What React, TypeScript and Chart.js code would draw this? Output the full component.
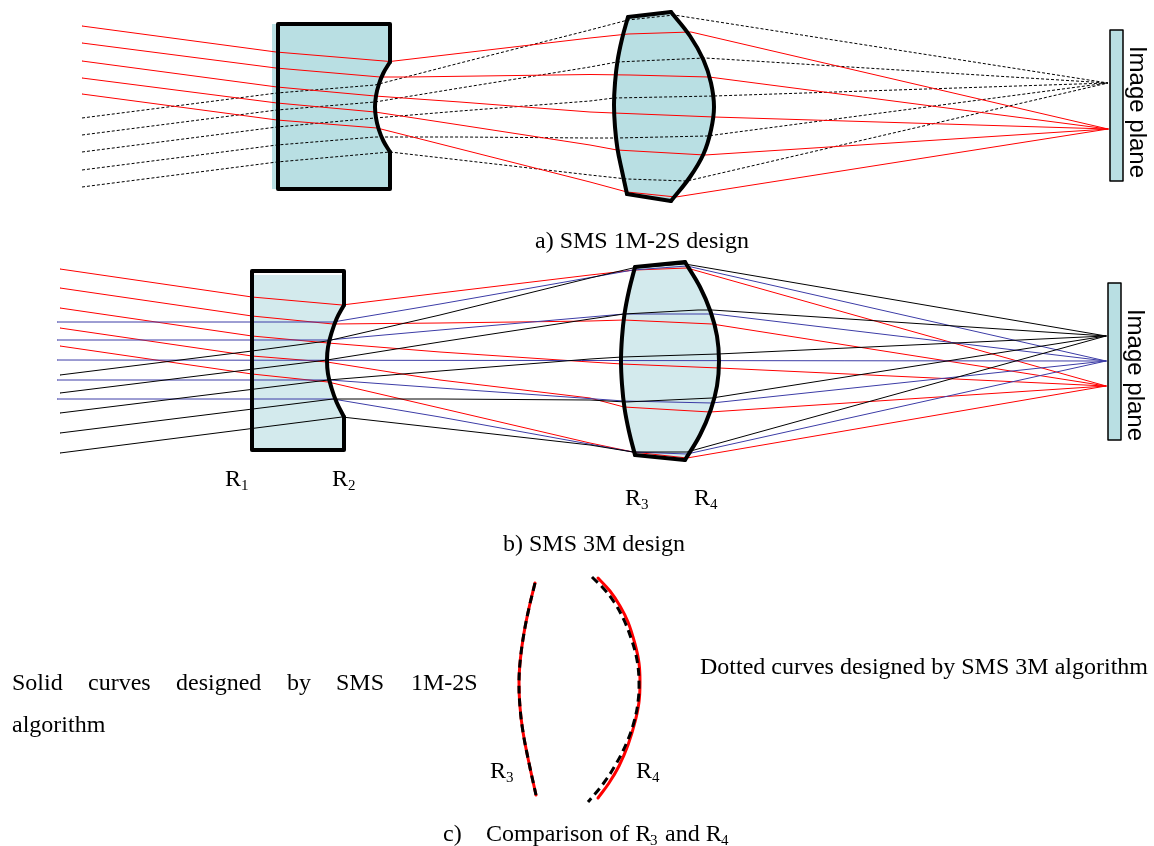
import React, { useEffect, useRef } from "react";
import { Chart, registerables } from "chart.js";

Chart.register(...registerables);

type P = [number, number];

// ---- Panel a: lenses
const lensA1Outline: P[] = [[390, 62], [390, 24], [278, 24], [278, 189], [390, 189], [390, 152]];
const lensA1Notch: P[] = [[390, 62], [383.4, 73], [378.8, 84.5], [376, 96], [375, 107], [376, 118], [378.8, 129.5], [383.4, 141], [390, 152]];
const lensA1Fill: P[] = [[272, 24], [390, 24], [390, 62], [383.4, 73], [378.8, 84.5], [376, 96], [375, 107], [376, 118], [378.8, 129.5], [383.4, 141], [390, 152], [390, 189], [272, 189]];
const lensA2Left: P[] = [[628, 17], [622, 39], [617.5, 61], [615, 83], [614, 105], [615, 127], [617.5, 149], [622, 171], [627, 194]];
const lensA2Right: P[] = [[671, 12], [690, 36], [703.5, 60], [711, 83], [714, 107], [711, 130], [703.5, 154], [690, 177], [671, 201]];
const lensA2TopEdge: P[] = [[628, 17], [671, 12]];
const lensA2BottomEdge: P[] = [[627, 194], [671, 201]];
const planeA: P[] = [[1110, 30], [1123, 30], [1123, 181], [1110, 181], [1110, 30]];

// ---- Panel a: rays
const redA1: P[] = [[82, 26], [276, 52], [390, 61.5], [590, 38], [628, 34], [691, 32], [1108, 129]];
const redA2: P[] = [[82, 43], [276, 68], [380, 77], [407, 77], [590, 74.5], [630, 75], [709, 77], [1108, 129]];
const redA3: P[] = [[82, 61], [277, 87], [375, 96], [460, 102], [590, 112], [614, 113], [714, 117], [1108, 129]];
const redA4: P[] = [[82, 78], [277, 103], [375, 112], [460, 125], [590, 145], [617, 150], [705, 155], [1108, 129]];
const redA5: P[] = [[82, 94], [277, 120], [377, 128], [460, 149], [590, 182], [627, 192], [676, 197], [1108, 129]];
const dashA1: P[] = [[82, 118], [277, 93], [375, 85], [460, 63], [590, 30], [628, 20], [674, 15], [1108, 83]];
const dashA2: P[] = [[82, 135], [277, 110], [375, 102], [460, 88], [590, 67], [617, 62], [705, 58], [1108, 83]];
const dashA3: P[] = [[82, 152], [277, 127], [375, 118], [460, 111], [590, 101], [614, 98], [714, 96], [1108, 83]];
const dashA4: P[] = [[82, 170], [277, 145], [375, 137], [460, 137], [590, 138], [617, 138], [707, 136], [1108, 83]];
const dashA5: P[] = [[82, 187], [277, 162], [390, 152], [460, 160], [590, 175], [627, 179], [687, 181], [1108, 83]];

// ---- Panel b: lenses
const lensB1Outline: P[] = [[344, 305], [344, 271], [252, 271], [252, 450], [344, 450], [344, 417]];
const lensB1Notch: P[] = [[344, 305], [336.5, 319], [331.5, 333], [328, 347], [327, 360], [328, 374], [331.5, 388], [336.5, 402], [344, 417]];
const lensB1Fill: P[] = [[252, 275], [345, 275], [345, 305], [336.5, 319], [331.5, 333], [328, 347], [327, 360], [328, 374], [331.5, 388], [336.5, 402], [345, 417], [345, 448], [252, 448]];
const lensB2Left: P[] = [[635, 267], [629, 290.5], [624.5, 314], [622, 337.5], [621, 361], [622, 384.5], [624.5, 408], [629, 431.5], [635, 455]];
const lensB2Right: P[] = [[685, 262], [700, 287], [710.7, 312], [717, 336], [719, 361], [717, 386], [710.7, 410], [700, 435], [685, 460]];
const lensB2TopEdge: P[] = [[635, 267], [685, 262]];
const lensB2BottomEdge: P[] = [[635, 455], [685, 460]];
const planeB: P[] = [[1108, 283], [1121, 283], [1121, 440], [1108, 440], [1108, 283]];

// ---- Panel b: rays
const redB1: P[] = [[60, 269], [252, 297], [342, 305], [440, 293], [590, 275], [635, 270], [687, 268], [1106, 386]];
const redB2: P[] = [[60, 288], [252, 316], [333, 324], [440, 323], [590, 321], [624, 320], [712, 324], [1106, 386]];
const redB3: P[] = [[60, 308], [252, 336], [328, 343], [440, 352], [590, 362], [622, 364], [719, 368], [1106, 386]];
const redB4: P[] = [[60, 328], [252, 356], [327, 362], [440, 380], [590, 398], [624, 407], [710, 412], [1106, 386]];
const redB5: P[] = [[60, 346], [252, 374], [328, 382], [440, 408], [590, 443], [633, 452], [687, 458], [1106, 386]];
const blueB1: P[] = [[57, 322], [333, 322], [440, 304], [633, 270], [687, 266], [1106, 361]];
const blueB2: P[] = [[57, 340], [328, 340], [440, 330], [624, 314], [714, 314], [1106, 361]];
const blueB3: P[] = [[57, 360], [1106, 361]];
const blueB4: P[] = [[57, 380], [330, 380], [440, 388], [624, 401], [712, 403], [1106, 361]];
const blueB5: P[] = [[57, 399], [333, 399], [440, 417], [633, 452], [687, 454], [1106, 361]];
const blackB1: P[] = [[60, 375], [252, 351], [327, 341], [440, 315], [590, 278], [633, 268], [685, 264], [1106, 336]];
const blackB2: P[] = [[60, 393], [327, 360], [440, 342], [590, 319], [624, 314], [698, 310], [712, 310], [1106, 336]];
const blackB3: P[] = [[60, 413], [328, 380], [440, 371], [590, 359], [622, 357], [718, 354], [1106, 336]];
const blackB4: P[] = [[60, 433], [333, 399], [440, 399], [590, 400], [626, 402], [712, 398], [1106, 336]];
const blackB5: P[] = [[60, 453], [342, 417], [440, 428], [590, 445], [633, 452], [687, 452], [1106, 336]];

// ---- Panel c: curves
const curveR3: P[] = [[535, 583], [529, 608], [524, 633], [520.5, 658], [519, 682], [520, 707], [523, 732], [529, 763], [536, 795]];
const curveR4Solid: P[] = [[598, 578], [610, 591], [620, 606], [628, 622], [635, 644], [639, 663], [640, 682], [639, 702], [635, 722], [628, 745], [619, 766], [609, 783], [598, 798]];
const curveR4Dashed: P[] = [[592, 577], [604, 589], [614, 602], [623, 618], [631, 638], [637, 660], [639, 682], [638, 702], [634, 722], [627, 742], [616, 764], [603, 784], [588, 802]];

// ---- Text: [text, x, y]
const captions: [string, number, number][] = [
  ["a) SMS 1M-2S design", 535, 242],
  ["b) SMS 3M design", 503, 545],
  ["c)", 443, 835],
  ["Comparison of R", 486, 835],
  ["and R", 665, 835],
  ["Solid", 12, 684],
  ["curves", 88, 684],
  ["designed", 176, 684],
  ["by", 287, 684],
  ["SMS", 336, 684],
  ["1M-2S", 411, 684],
  ["algorithm", 12, 726],
  ["Dotted curves designed by SMS 3M algorithm", 700, 668],
  ["R", 225, 480],
  ["R", 332, 480],
  ["R", 625, 499],
  ["R", 694, 499],
  ["R", 490, 772],
  ["R", 636, 772],
];
const subscripts: [string, number, number][] = [
  ["1", 241, 486],
  ["2", 348, 486],
  ["3", 641, 505],
  ["4", 710, 505],
  ["3", 506, 778],
  ["4", 652, 778],
  ["3", 650, 841],
  ["4", 721, 841],
];
const planeLabels: [string, number, number][] = [
  ["Image plane", 1137, 112],
  ["Image plane", 1135, 375],
];

const RED = "#ff0000";
const BLUE = "#3c3ca6";
const BLACK = "#000000";
const GLASS = "#b9dfe3";
const GLASS_LIGHT = "#d3eaed";

const pts = (a: P[]) => a.map(([x, y]) => ({ x, y }));
const line = (a: P[], color: string, width: number, extra: any = {}) => ({
  data: pts(a),
  showLine: true,
  borderColor: color,
  borderWidth: width,
  pointRadius: 0,
  pointHoverRadius: 0,
  tension: 0,
  fill: false,
  order: 2,
  borderCapStyle: "round",
  borderJoinStyle: "round",
  ...extra,
});
const area = (a: P[], color: string) => ({
  data: pts(a),
  showLine: true,
  borderWidth: 0,
  borderColor: color,
  backgroundColor: color,
  pointRadius: 0,
  pointHoverRadius: 0,
  tension: 0,
  fill: "shape",
  order: 4,
});
const outline = (a: P[], width: number, extra: any = {}) =>
  line(a, BLACK, width, { order: 1, ...extra });
const curve = (a: P[], width: number) => outline(a, width, { tension: 0.4 });

const textPlugin = {
  id: "diagramText",
  afterDraw(chart: any) {
    const { ctx, scales } = chart;
    const { x: sx, y: sy } = scales;
    ctx.save();
    ctx.fillStyle = "#000";
    ctx.textBaseline = "middle";
    ctx.textAlign = "left";
    ctx.font = '24px "Liberation Serif"';
    captions.forEach(([t, x, y]) => ctx.fillText(t, sx.getPixelForValue(x), sy.getPixelForValue(y)));
    ctx.font = '15px "Liberation Serif"';
    subscripts.forEach(([t, x, y]) => ctx.fillText(t, sx.getPixelForValue(x), sy.getPixelForValue(y)));
    ctx.font = '24px "Liberation Sans"';
    ctx.textAlign = "center";
    planeLabels.forEach(([t, x, y]) => {
      ctx.save();
      ctx.translate(sx.getPixelForValue(x), sy.getPixelForValue(y));
      ctx.rotate(Math.PI / 2);
      ctx.fillText(t, 0, 0);
      ctx.restore();
    });
    ctx.restore();
  },
};

export default function App() {
  const ref = useRef<HTMLCanvasElement>(null);
  useEffect(() => {
    document.body.style.margin = "0";
    document.body.style.background = "#fff";
    const lensA2 = [...lensA2Left, ...[...lensA2Right].reverse()];
    const lensB2 = [...lensB2Left, ...[...lensB2Right].reverse()];
    const dashed = { borderDash: [3, 2], borderCapStyle: "butt" };
    const chart = new Chart(ref.current!, {
      type: "scatter",
      data: {
        datasets: [
          area(lensA1Fill, GLASS),
          area(lensA2, GLASS),
          area(planeA, GLASS),
          area(lensB1Fill, GLASS_LIGHT),
          area(lensB2, GLASS_LIGHT),
          area(planeB, GLASS),
          ...[redA1, redA2, redA3, redA4, redA5].map((a) => line(a, RED, 1)),
          ...[dashA1, dashA2, dashA3, dashA4, dashA5].map((a) => line(a, BLACK, 1, dashed)),
          ...[blackB1, blackB2, blackB3, blackB4, blackB5].map((a) => line(a, BLACK, 1)),
          ...[blueB1, blueB2, blueB3, blueB4, blueB5].map((a) => line(a, BLUE, 1)),
          ...[redB1, redB2, redB3, redB4, redB5].map((a) => line(a, RED, 1)),
          outline(lensA1Outline, 4),
          curve(lensA1Notch, 4),
          curve(lensA2Left, 4),
          curve(lensA2Right, 4),
          outline(lensA2TopEdge, 4),
          outline(lensA2BottomEdge, 4),
          outline(planeA, 1.5),
          outline(lensB1Outline, 4),
          curve(lensB1Notch, 4),
          curve(lensB2Left, 4),
          curve(lensB2Right, 4),
          outline(lensB2TopEdge, 4),
          outline(lensB2BottomEdge, 4),
          outline(planeB, 1.5),
          line(curveR3, RED, 3, { tension: 0.4, order: 3 }),
          line(curveR4Solid, RED, 3, { tension: 0.4, order: 3 }),
          outline(curveR3, 3, { tension: 0.4, borderDash: [8, 5], borderCapStyle: "butt" }),
          outline(curveR4Dashed, 3, { tension: 0.4, borderDash: [8, 5], borderCapStyle: "butt" }),
        ] as any,
      },
      options: {
        animation: false,
        responsive: false,
        devicePixelRatio: 1,
        layout: { padding: 0 },
        plugins: { legend: { display: false }, tooltip: { enabled: false }, title: { display: false } },
        scales: {
          x: { type: "linear", min: 0, max: 1154, display: false },
          y: { type: "linear", min: 0, max: 846, reverse: true, display: false },
        },
      } as any,
      plugins: [textPlugin],
    });
    return () => chart.destroy();
  }, []);
  return <canvas ref={ref} width={1154} height={846} style={{ display: "block" }} />;
}
